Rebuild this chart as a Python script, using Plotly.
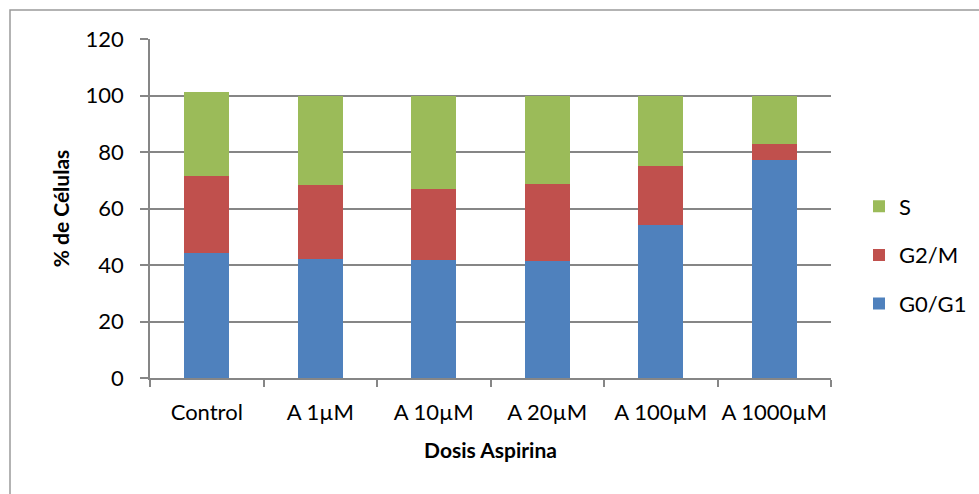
import plotly.graph_objects as go

categories = ["Control", "A 1µM", "A 10µM", "A 20µM", "A 100µM", "A 1000µM"]
g0g1 = [44.1, 42.1, 41.9, 41.4, 54.2, 77.2]
g2m = [27.3, 26.3, 24.9, 27.4, 20.7, 5.8]
s_phase = [29.8, 31.6, 33.2, 31.2, 25.1, 17.0]

W, H = 979, 494
ML, MR, MT, MB = 150, 148, 39, 116
FONT = "Lato"

fig = go.Figure()
series = [("G0/G1", g0g1, "#4F81BD", 3), ("G2/M", g2m, "#C0504D", 2), ("S", s_phase, "#9BBB59", 1)]
for name, vals, col, rank in series:
    fig.add_trace(go.Bar(x=categories, y=vals, name=name, legendgroup=name, legendrank=rank,
                         marker=dict(color=col, line=dict(width=0))))

pw = W - ML - MR
ph = H - MT - MB
def px_x(p):
    return (p - ML) / pw
def px_y(p):
    return (H - MB - p) / ph

fig.update_layout(
    width=W, height=H,
    margin=dict(l=ML, r=MR, t=MT, b=MB, autoexpand=False),
    barmode="stack", bargap=0.6,
    plot_bgcolor="white", paper_bgcolor="white",
    font=dict(family=FONT, size=22, color="black"),
    legend=dict(traceorder="grouped", x=px_x(859), xanchor="left", y=px_y(255), yanchor="middle",
                font=dict(size=22), tracegroupgap=17, itemwidth=30),
    xaxis=dict(showline=True, linecolor="#868686", linewidth=1.5, automargin=False, tickangle=0,
               ticks="outside", tickson="boundaries", ticklen=7, tickcolor="#868686", tickwidth=1.5,
               ticklabelstandoff=14,
               title=dict(text="<b>Dosis Aspirina</b>", font=dict(size=21), standoff=19)),
    yaxis=dict(range=[0, 120], dtick=20, showline=True, linecolor="#868686", linewidth=1.5,
               automargin=False,
               showgrid=True, gridcolor="#868686", gridwidth=1.5,
               ticks="outside", ticklen=8, tickcolor="#868686", tickwidth=1.5,
               ticklabelstandoff=12,
               title=dict(text="<b>% de Células</b>", font=dict(size=21), standoff=10)),
    shapes=[dict(type="rect", xref="paper", yref="paper",
                 x0=px_x(10), x1=px_x(1100), y0=px_y(600), y1=px_y(10),
                 line=dict(color="#9a9a9a", width=1.5), layer="below")],
)

fig.write_html("out.html")
